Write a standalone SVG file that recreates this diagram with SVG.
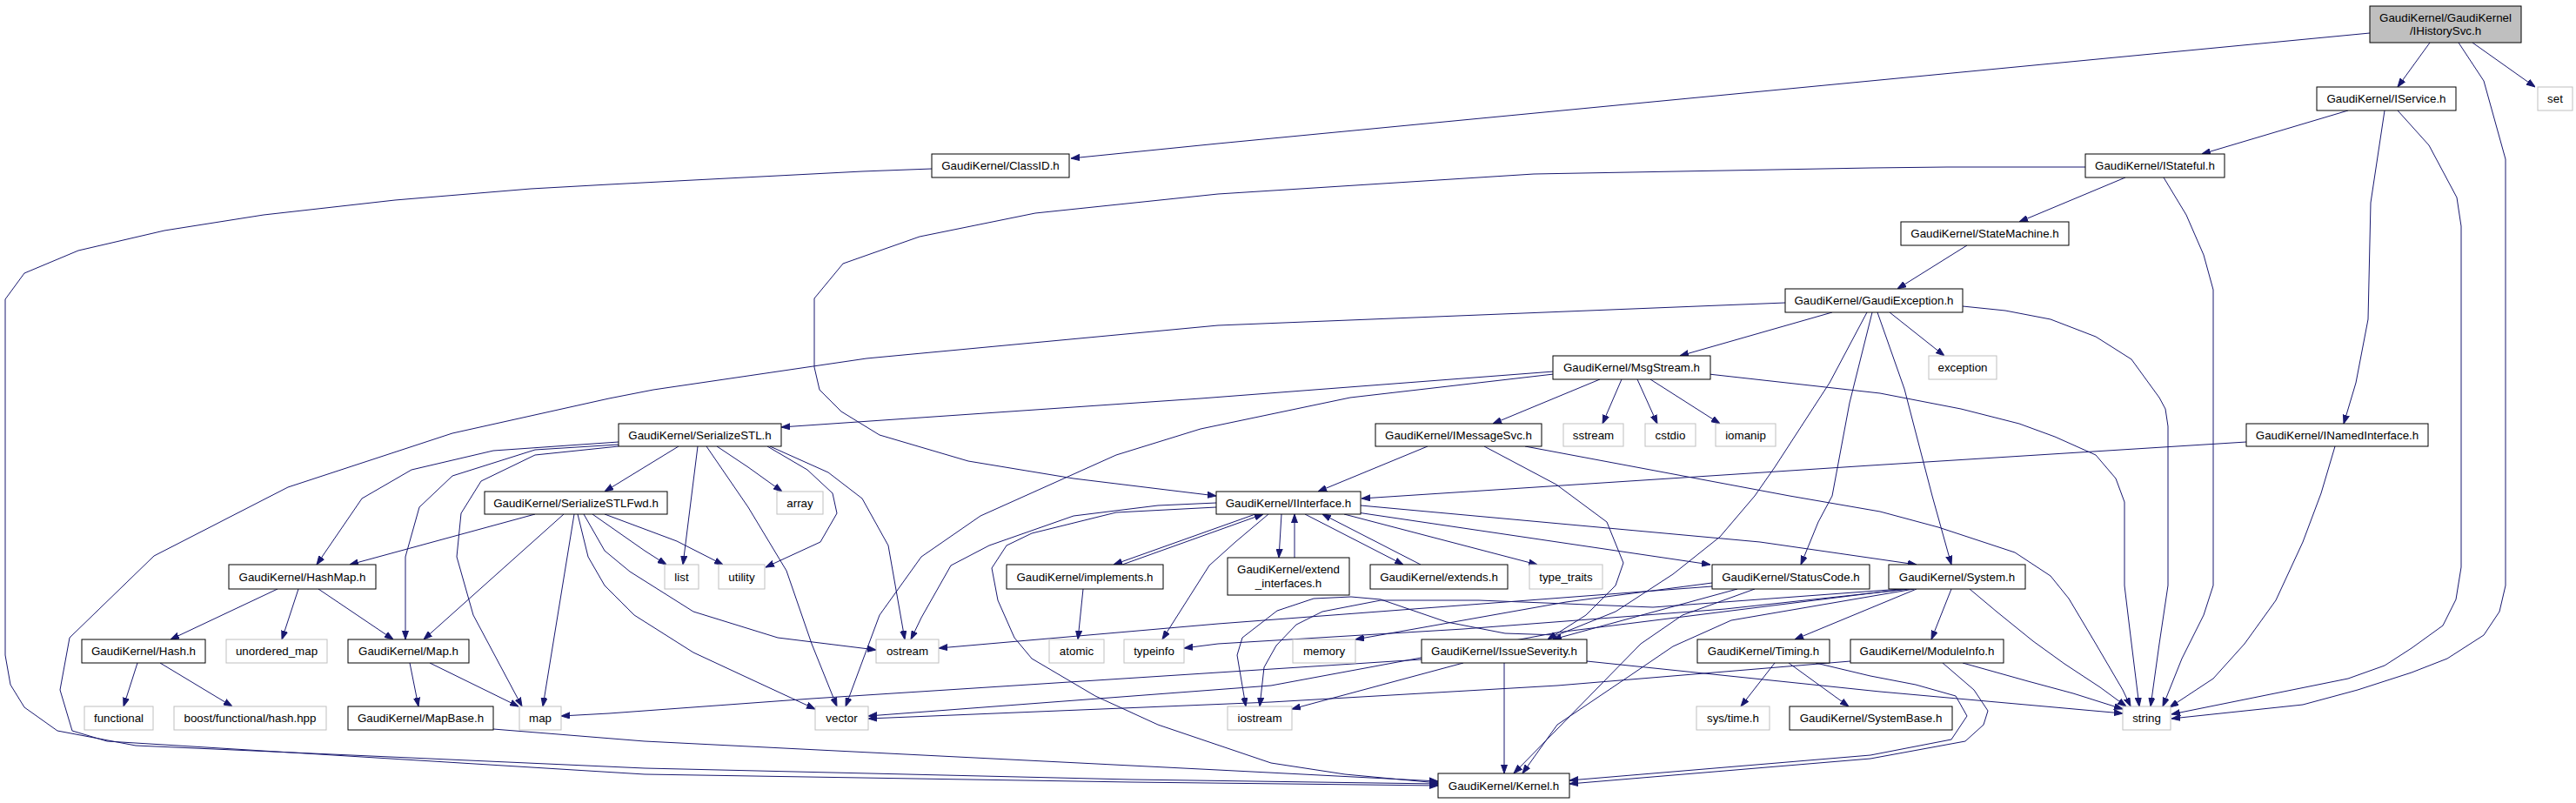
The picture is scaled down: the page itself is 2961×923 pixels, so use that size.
<svg xmlns="http://www.w3.org/2000/svg" width="2961" height="923" viewBox="0 0 2961 923">
<style>
.n rect{fill:#ffffff;stroke:#000000;stroke-width:1}
.x rect{fill:#ffffff;stroke:#bfbfbf;stroke-width:1}
.r rect{fill:#bfbfbf;stroke:#000000;stroke-width:1}
text{font-family:"Liberation Sans",Arial,Helvetica,sans-serif;font-size:13.33px;fill:#000000;text-anchor:middle}
.e{fill:none;stroke:#191970;stroke-width:1;stroke-linejoin:round;marker-end:url(#ah)}
</style>
<defs>
<marker id="ah" viewBox="0 0 10 8" refX="10" refY="4" markerWidth="10" markerHeight="8" orient="auto" markerUnits="userSpaceOnUse">
<path d="M0,0.5 L10,4 L0,7.5 z" fill="#191970" stroke="#191970" stroke-width="1"/>
</marker>
</defs>
<rect x="0" y="0" width="2961" height="923" fill="#ffffff"/>
<g id="edges">
<path class="e" d="M2724,38 L2150,93 L1400,165 L1231,182"/>
<path class="e" d="M2793,49 L2756,100"/>
<path class="e" d="M2842,49 L2914,100"/>
<path class="e" d="M2826,49 L2855,93 L2880,183 L2880,673 L2873,703 L2855,730 L2813,757 L2772,773 L2710,793 L2647,810 L2496,826"/>
<path class="e" d="M1071,194 L991,197 L700,212 L610,217 L454,230 L303,247 L189,265 L90,288 L28,314 L6,344 L6,753 L12,787 L28,813 L66,840 L156,857 L741,883 L1300,896 L1653,901"/>
<path class="e" d="M2052,348 L1400,374 L996,412 L751,448 L700,458 L520,498 L331,560 L177,639 L80,733 L69,793 L83,840 L123,852 L741,890 L1300,899 L1653,903"/>
<path class="e" d="M2699,127 L2531,177"/>
<path class="e" d="M2741,127 L2725,233 L2722,367 L2708,440 L2694,487"/>
<path class="e" d="M2756,127 L2792,167 L2824,227 L2829,260 L2829,652 L2823,689 L2808,719 L2772,745 L2741,765 L2699,780 L2496,821"/>
<path class="e" d="M2443,204 L2321,255"/>
<path class="e" d="M2397,192 L2238,192 L2150,193 L1763,200 L1400,223 L1190,245 L1057,272 L969,303 L936,343 L936,422 L942,448 L967,473 L1011,500 L1113,530 L1234,550 L1398,570"/>
<path class="e" d="M2487,204 L2513,247 L2533,293 L2544,333 L2544,673 L2533,707 L2508,757 L2486,812"/>
<path class="e" d="M2261,282 L2181,332"/>
<path class="e" d="M2106,359 L1931,409"/>
<path class="e" d="M2172,359 L2235,409"/>
<path class="e" d="M2256,352 L2305,357 L2357,367 L2409,387 L2450,413 L2482,457 L2489,470 L2492,490 L2492,673 L2482,740 L2472,812"/>
<path class="e" d="M2152,359 L2126,463 L2106,570 L2090,600 L2070,649"/>
<path class="e" d="M2158,359 L2189,447 L2221,570 L2243,649"/>
<path class="e" d="M2146,359 L2103,440 L2040,537 L2017,570 L1977,617 L1923,660 L1857,703 L1790,730 L1730,728 L1663,715 L1587,689 L1553,686 L1510,688 L1468,702 L1428,733 L1422,753 L1432,812"/>
<path class="e" d="M1786,427 L1380,458 L898,491"/>
<path class="e" d="M1786,430 L1552,457 L1380,493 L1283,523 L1127,593 L1059,640 L1011,707 L972,812"/>
<path class="e" d="M1839,436 L1716,487"/>
<path class="e" d="M1864,436 L1842,487"/>
<path class="e" d="M1882,436 L1905,487"/>
<path class="e" d="M1897,436 L1977,487"/>
<path class="e" d="M1964,430 L2161,452 L2254,470 L2321,487 L2362,502 L2409,523 L2432,550 L2442,577 L2442,673 L2448,723 L2459,812"/>
<path class="e" d="M1641,513 L1515,565"/>
<path class="e" d="M1706,513 L1789,557 L1847,600 L1866,647 L1857,673 L1823,707 L1779,735"/>
<path class="e" d="M1753,513 L2057,570 L2161,588 L2228,606 L2316,635 L2357,662 L2378,688 L2409,740 L2440,793 L2449,812"/>
<path class="e" d="M2684,513 L2668,567 L2647,623 L2616,690 L2580,740 L2544,780 L2494,813"/>
<path class="e" d="M2582,508 L2150,535 L1565,573"/>
<path class="e" d="M780,513 L695,565"/>
<path class="e" d="M711,508 L567,518 L473,540 L416,573 L364,649"/>
<path class="e" d="M711,511 L615,517 L520,547 L482,583 L466,640 L466,735"/>
<path class="e" d="M711,513 L615,523 L553,553 L530,590 L525,640 L544,707 L600,812"/>
<path class="e" d="M802,513 L785,649"/>
<path class="e" d="M812,513 L860,583 L904,656 L933,740 L962,812"/>
<path class="e" d="M824,513 L860,537 L899,565"/>
<path class="e" d="M882,513 L928,540 L957,567 L962,590 L943,623 L880,652"/>
<path class="e" d="M885,513 L952,543 L991,573 L1021,627 L1040,735"/>
<path class="e" d="M615,591 L402,649"/>
<path class="e" d="M648,591 L487,735"/>
<path class="e" d="M660,591 L624,812"/>
<path class="e" d="M681,591 L741,633 L766,649"/>
<path class="e" d="M695,591 L778,622 L831,649"/>
<path class="e" d="M671,591 L695,633 L724,657 L797,703 L894,733 L1007,747"/>
<path class="e" d="M664,591 L676,640 L695,673 L729,707 L797,750 L855,777 L937,815"/>
<path class="e" d="M319,677 L196,735"/>
<path class="e" d="M343,677 L324,735"/>
<path class="e" d="M366,677 L452,735"/>
<path class="e" d="M158,762 L142,812"/>
<path class="e" d="M184,762 L267,812"/>
<path class="e" d="M471,762 L481,812"/>
<path class="e" d="M494,762 L596,812"/>
<path class="e" d="M567,838 L741,852 L1400,885 L1653,898"/>
<path class="e" d="M1473,591 L1470,641"/>
<path class="e" d="M1488,641 L1488,591"/>
<path class="e" d="M1500,591 L1613,649"/>
<path class="e" d="M1633,649 L1520,591"/>
<path class="e" d="M1545,591 L1767,649"/>
<path class="e" d="M1560,589 L1966,649"/>
<path class="e" d="M1564,581 L2023,623 L2203,649"/>
<path class="e" d="M1443,591 L1280,649"/>
<path class="e" d="M1290,649 L1452,591"/>
<path class="e" d="M1458,591 L1420,623 L1390,650 L1336,735"/>
<path class="e" d="M1398,578 L1331,581 L1234,593 L1137,627 L1093,650 L1059,710 L1047,735"/>
<path class="e" d="M1398,583 L1283,589 L1186,613 L1157,627 L1140,653 L1147,690 L1166,733 L1186,757 L1259,800 L1331,833 L1461,877 L1546,890 L1653,900"/>
<path class="e" d="M1245,677 L1239,735"/>
<path class="e" d="M1997,677 L1785,735"/>
<path class="e" d="M2017,677 L1934,707 L1886,740 L1837,790 L1740,889"/>
<path class="e" d="M1968,674 L1400,717 L1079,745"/>
<path class="e" d="M1968,670 L1800,692 L1558,735"/>
<path class="e" d="M2203,677 L2063,735"/>
<path class="e" d="M2243,677 L2220,735"/>
<path class="e" d="M2264,677 L2295,703 L2337,737 L2373,763 L2414,790 L2444,812"/>
<path class="e" d="M2200,677 L1990,713 L1923,743 L1873,777 L1790,833 L1750,889"/>
<path class="e" d="M2195,677 L1983,700 L1682,723 L1400,740 L1361,745"/>
<path class="e" d="M2190,677 L1790,727 L1461,788 L998,823"/>
<path class="e" d="M2185,677 L1900,698 L1700,690 L1587,690 L1520,703 L1490,718 L1467,742 L1453,767 L1448,812"/>
<path class="e" d="M2256,762 L2331,783 L2383,797 L2440,815"/>
<path class="e" d="M2233,762 L2269,793 L2285,817 L2280,833 L2259,852 L2150,872 L1804,901"/>
<path class="e" d="M2127,760 L1790,788 L1461,807 L998,826"/>
<path class="e" d="M2040,762 L2001,812"/>
<path class="e" d="M2056,762 L2125,812"/>
<path class="e" d="M2087,762 L2150,777 L2202,787 L2248,800 L2261,823 L2243,850 L2150,868 L1804,897"/>
<path class="e" d="M1729,762 L1729,889"/>
<path class="e" d="M1682,762 L1485,815"/>
<path class="e" d="M1634,758 L1400,773 L933,803 L700,820 L645,823"/>
<path class="e" d="M1824,760 L2161,795 L2440,820"/>
</g>
<g id="n_root" class="r"><rect x="2724" y="7" width="174" height="42"/><text x="2811" y="24.5">GaudiKernel/GaudiKernel</text><text x="2811" y="40">/IHistorySvc.h</text></g>
<g id="n_classid" class="n"><rect x="1071" y="177" width="158" height="27"/><text x="1150" y="195">GaudiKernel/ClassID.h</text></g>
<g id="n_iservice" class="n"><rect x="2663" y="100" width="160" height="27"/><text x="2743" y="118">GaudiKernel/IService.h</text></g>
<g id="n_set" class="x"><rect x="2917" y="100" width="40" height="27"/><text x="2937" y="118">set</text></g>
<g id="n_istateful" class="n"><rect x="2397" y="177" width="160" height="27"/><text x="2477" y="195">GaudiKernel/IStateful.h</text></g>
<g id="n_statemachine" class="n"><rect x="2185" y="255" width="193" height="27"/><text x="2281.5" y="273">GaudiKernel/StateMachine.h</text></g>
<g id="n_gaudiexception" class="n"><rect x="2052" y="332" width="204" height="27"/><text x="2154" y="350">GaudiKernel/GaudiException.h</text></g>
<g id="n_exception" class="x"><rect x="2217" y="409" width="78" height="27"/><text x="2256" y="427">exception</text></g>
<g id="n_msgstream" class="n"><rect x="1785" y="409" width="181" height="27"/><text x="1875.5" y="427">GaudiKernel/MsgStream.h</text></g>
<g id="n_inamedinterface" class="n"><rect x="2582" y="487" width="209" height="26"/><text x="2686.5" y="504.5">GaudiKernel/INamedInterface.h</text></g>
<g id="n_serializestl" class="n"><rect x="711" y="487" width="187" height="26"/><text x="804.5" y="504.5">GaudiKernel/SerializeSTL.h</text></g>
<g id="n_imessagesvc" class="n"><rect x="1581" y="487" width="191" height="26"/><text x="1676.5" y="504.5">GaudiKernel/IMessageSvc.h</text></g>
<g id="n_sstream" class="x"><rect x="1797" y="487" width="69" height="26"/><text x="1831.5" y="504.5">sstream</text></g>
<g id="n_cstdio" class="x"><rect x="1891" y="487" width="58" height="26"/><text x="1920" y="504.5">cstdio</text></g>
<g id="n_iomanip" class="x"><rect x="1972" y="487" width="69" height="26"/><text x="2006.5" y="504.5">iomanip</text></g>
<g id="n_serializestlfwd" class="n"><rect x="557" y="565" width="210" height="26"/><text x="662" y="582.5">GaudiKernel/SerializeSTLFwd.h</text></g>
<g id="n_array" class="x"><rect x="893" y="565" width="53" height="26"/><text x="919.5" y="582.5">array</text></g>
<g id="n_iinterface" class="n"><rect x="1398" y="565" width="166" height="26"/><text x="1481" y="582.5">GaudiKernel/IInterface.h</text></g>
<g id="n_hashmap" class="n"><rect x="263" y="649" width="169" height="28"/><text x="347.5" y="667.5">GaudiKernel/HashMap.h</text></g>
<g id="n_list" class="x"><rect x="764" y="649" width="39" height="28"/><text x="783.5" y="667.5">list</text></g>
<g id="n_utility" class="x"><rect x="826" y="649" width="53" height="28"/><text x="852.5" y="667.5">utility</text></g>
<g id="n_implements" class="n"><rect x="1157" y="649" width="180" height="28"/><text x="1247" y="667.5">GaudiKernel/implements.h</text></g>
<g id="n_extend_interfaces" class="n"><rect x="1411" y="641" width="140" height="43"/><text x="1481" y="659">GaudiKernel/extend</text><text x="1481" y="675">_interfaces.h</text></g>
<g id="n_extends" class="n"><rect x="1575" y="649" width="158" height="28"/><text x="1654" y="667.5">GaudiKernel/extends.h</text></g>
<g id="n_type_traits" class="x"><rect x="1758" y="649" width="84" height="28"/><text x="1800" y="667.5">type_traits</text></g>
<g id="n_statuscode" class="n"><rect x="1968" y="649" width="181" height="28"/><text x="2058.5" y="667.5">GaudiKernel/StatusCode.h</text></g>
<g id="n_system" class="n"><rect x="2171" y="649" width="157" height="28"/><text x="2249.5" y="667.5">GaudiKernel/System.h</text></g>
<g id="n_hash" class="n"><rect x="94" y="735" width="142" height="27"/><text x="165" y="753">GaudiKernel/Hash.h</text></g>
<g id="n_unordered_map" class="x"><rect x="260" y="735" width="116" height="27"/><text x="318" y="753">unordered_map</text></g>
<g id="n_map_h" class="n"><rect x="400" y="735" width="139" height="27"/><text x="469.5" y="753">GaudiKernel/Map.h</text></g>
<g id="n_ostream" class="x"><rect x="1007" y="735" width="72" height="27"/><text x="1043" y="753">ostream</text></g>
<g id="n_atomic" class="x"><rect x="1206" y="735" width="63" height="27"/><text x="1237.5" y="753">atomic</text></g>
<g id="n_typeinfo" class="x"><rect x="1292" y="735" width="69" height="27"/><text x="1326.5" y="753">typeinfo</text></g>
<g id="n_memory" class="x"><rect x="1486" y="735" width="72" height="27"/><text x="1522" y="753">memory</text></g>
<g id="n_issueseverity" class="n"><rect x="1634" y="735" width="190" height="27"/><text x="1729" y="753">GaudiKernel/IssueSeverity.h</text></g>
<g id="n_timing" class="n"><rect x="1951" y="735" width="152" height="27"/><text x="2027" y="753">GaudiKernel/Timing.h</text></g>
<g id="n_moduleinfo" class="n"><rect x="2127" y="735" width="176" height="27"/><text x="2215" y="753">GaudiKernel/ModuleInfo.h</text></g>
<g id="n_functional" class="x"><rect x="97" y="812" width="79" height="27"/><text x="136.5" y="830">functional</text></g>
<g id="n_boost_hash" class="x"><rect x="200" y="812" width="175" height="27"/><text x="287.5" y="830">boost/functional/hash.hpp</text></g>
<g id="n_mapbase" class="n"><rect x="400" y="812" width="167" height="27"/><text x="483.5" y="830">GaudiKernel/MapBase.h</text></g>
<g id="n_map" class="x"><rect x="597" y="812" width="48" height="27"/><text x="621" y="830">map</text></g>
<g id="n_vector" class="x"><rect x="937" y="812" width="61" height="27"/><text x="967.5" y="830">vector</text></g>
<g id="n_iostream" class="x"><rect x="1411" y="812" width="74" height="27"/><text x="1448" y="830">iostream</text></g>
<g id="n_systime" class="x"><rect x="1950" y="812" width="84" height="27"/><text x="1992" y="830">sys/time.h</text></g>
<g id="n_systembase" class="n"><rect x="2057" y="812" width="187" height="27"/><text x="2150.5" y="830">GaudiKernel/SystemBase.h</text></g>
<g id="n_string" class="x"><rect x="2440" y="812" width="55" height="27"/><text x="2467.5" y="830">string</text></g>
<g id="n_kernel" class="n"><rect x="1653" y="889" width="151" height="28"/><text x="1728.5" y="907.5">GaudiKernel/Kernel.h</text></g>
</svg>
